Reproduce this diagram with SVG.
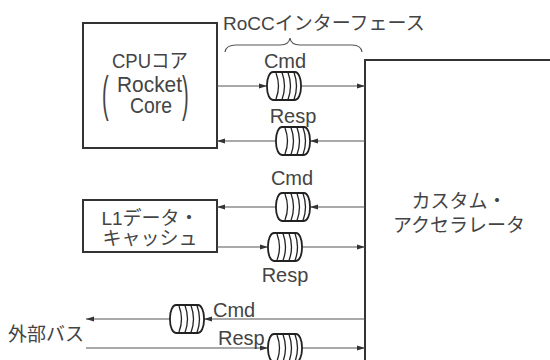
<svg xmlns="http://www.w3.org/2000/svg" width="550" height="360" viewBox="0 0 550 360">
<style>
text{font-family:"Liberation Sans","Noto Sans CJK JP",sans-serif;font-size:19px;fill:#444}
.l{font-size:20px}
.c{text-anchor:middle}
.box{fill:#fff;stroke:#333;stroke-width:2}
.ln{stroke:#555;stroke-width:1.2;fill:none}
.q rect{fill:#fff;stroke:#222;stroke-width:1.8}
.q path{fill:none;stroke:#222;stroke-width:1.3}
</style>
<defs>
<marker id="ah" markerUnits="userSpaceOnUse" markerWidth="9" markerHeight="6" refX="8" refY="3" orient="auto">
<path d="M0,0.5 L8,3 L0,5.5 z" fill="#333"/>
</marker>
<g id="queue" class="q">
<rect x="0" y="-14" width="34" height="28" rx="6" ry="13"/>
<path d="M9,-13 Q14,0 9,13"/>
<path d="M15,-13.5 Q20,0 15,13.5"/>
<path d="M21,-13.5 Q26,0 21,13.5"/>
<path d="M27,-13.5 Q32,0 27,13.5"/>
</g>
</defs>

<g id="accelerator">
<rect class="box" x="365" y="60" width="200" height="310"/>
<text class="c" x="459" y="208">カスタム・</text>
<text class="c" x="459" y="232">アクセラレータ</text>
</g>

<g id="cpu">
<rect class="box" x="83" y="23" width="134" height="125"/>
<text x="112" y="68" style="font-size:20px" textLength="76" lengthAdjust="spacingAndGlyphs">CPUコア</text>
<text x="0" y="0" transform="translate(102,111) scale(1,2.5)" style="font-size:20px">(</text>
<text x="117" y="92" style="font-size:22px" textLength="65" lengthAdjust="spacingAndGlyphs">Rocket</text>
<text x="130" y="113" style="font-size:22px" textLength="42" lengthAdjust="spacingAndGlyphs">Core</text>
<text x="0" y="0" transform="translate(182,111) scale(1,2.5)" style="font-size:20px">)</text>
</g>

<g id="l1cache">
<rect class="box" x="83" y="200" width="134" height="52"/>
<text class="c" x="150" y="225">L1データ・</text>
<text class="c" x="150" y="245">キャッシュ</text>
</g>

<g id="extbus">
<text x="8" y="341">外部バス</text>
</g>

<g id="rocc">
<text x="223" y="30">RoCCインターフェース</text>
<path class="ln" d="M225,52 Q226,45 236,45 L280,45 Q289,45 290,38 Q291,45 300,45 L352,45 Q361,45 362,52"/>
</g>

<g id="connectors">
<path class="ln" marker-end="url(#ah)" d="M217,86 H267"/>
<path class="ln" marker-end="url(#ah)" d="M301,86 H365"/>
<path class="ln" marker-end="url(#ah)" d="M365,141 H310"/>
<path class="ln" marker-end="url(#ah)" d="M276,141 H217"/>
<path class="ln" marker-end="url(#ah)" d="M365,207 H310"/>
<path class="ln" marker-end="url(#ah)" d="M276,207 H217"/>
<path class="ln" marker-end="url(#ah)" d="M217,247 H268"/>
<path class="ln" marker-end="url(#ah)" d="M302,247 H365"/>
<path class="ln" marker-end="url(#ah)" d="M365,319 H204"/>
<path class="ln" marker-end="url(#ah)" d="M170,319 H86"/>
<path class="ln" marker-end="url(#ah)" d="M86,348 H268"/>
<path class="ln" marker-end="url(#ah)" d="M302,348 H365"/>
</g>

<g id="queues">
<g id="q-cpu-cmd"><use href="#queue" x="267" y="86"/><text class="c l" x="285" y="68">Cmd</text></g>
<g id="q-cpu-resp"><use href="#queue" x="276" y="141"/><text class="c l" x="293" y="123">Resp</text></g>
<g id="q-l1-cmd"><use href="#queue" x="276" y="207"/><text class="c l" x="292" y="185">Cmd</text></g>
<g id="q-l1-resp"><use href="#queue" x="268" y="247"/><text class="c l" x="285" y="282">Resp</text></g>
<g id="q-ext-cmd"><use href="#queue" x="170" y="319"/><text class="l" x="213" y="317">Cmd</text></g>
<g id="q-ext-resp"><use href="#queue" x="268" y="348"/><text class="l" x="218" y="345">Resp</text></g>
</g>
</svg>
